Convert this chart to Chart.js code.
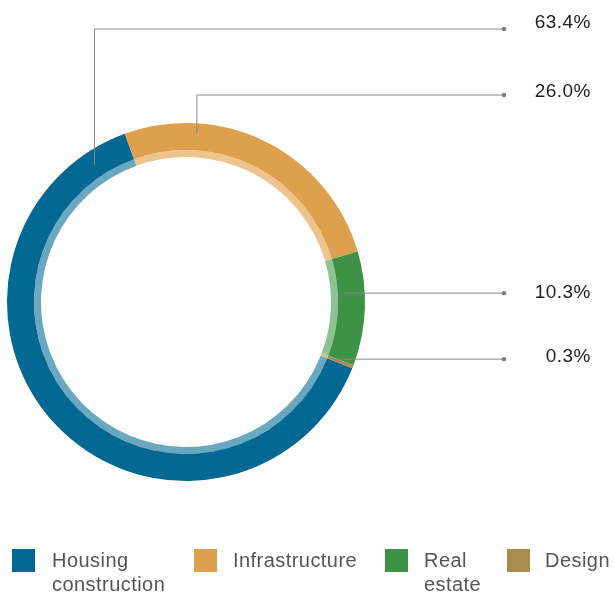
<!DOCTYPE html>
<html>
<head>
<meta charset="utf-8">
<script src="https://cdn.jsdelivr.net/npm/chart.js@4.4.1/dist/chart.umd.min.js"></script>
<style>
  body { margin: 0; background: #fff; }
  #wrap { position: relative; width: 614px; height: 594px; }
  #chart { position: absolute; left: 0; top: 0; }
  .legend-item { position: absolute; top: 549px; }
  .legend-item .box { position: absolute; left: 0; top: 0; width: 23px; height: 23px; }
  .legend-item .text {
    position: absolute; top: -1px;
    font: 20px "Liberation Sans", Arial, sans-serif;
    letter-spacing: 0.45px;
    line-height: 24px; color: #555;
  }
</style>
</head>
<body>
<div id="wrap">
  <canvas id="chart" width="614" height="594"></canvas>
  <div id="legend"></div>
</div>
<script>
// Revenue split by segment
const categories = ['Housing construction', 'Infrastructure', 'Real estate', 'Design'];
const shares = [63.4, 26.0, 10.3, 0.3];
const shareLabels = shares.map(v => v.toFixed(1) + '%');

const colors = ['#006892', '#dfa04d', '#3d9245', '#a98a4f'];
const lightColors = ['#6aa7c0', '#edc48f', '#8dc294', '#d5bd98'];

// Infrastructure starts just left of 12 o'clock, housing closes the ring there
const rotation = -20 + (shares[1] + shares[2] + shares[3]) / 100 * 360;

// where each leader line leaves its slice (fraction along the arc, radius)
const leaders = [
    { at: 0.94, r: 165, elbowY: 29, textDy: -6 },
    { at: 0.253, r: 169, elbowY: 95, textDy: -3 },
    { at: 0.356, r: 159, elbowY: null, textDy: 0 },
    { at: 0.1, r: 161, elbowY: null, textDy: -2 }
];
const dotX = 504;
const textRight = 591;

// Leader lines + percentage labels on the right
const leaderPlugin = {
    id: 'leaders',
    afterDatasetsDraw(chart) {
        const ctx = chart.ctx;
        const meta = chart.getDatasetMeta(0);
        ctx.save();
        meta.data.forEach((arc, i) => {
            const { x, y, startAngle, endAngle } = arc.getProps(['x', 'y', 'startAngle', 'endAngle'], true);
            const cfg = leaders[i];
            const a = startAngle + cfg.at * (endAngle - startAngle);
            const px = x + cfg.r * Math.cos(a);
            const py = y + cfg.r * Math.sin(a);
            const ly = cfg.elbowY === null ? py : cfg.elbowY;

            ctx.strokeStyle = '#8a8a8a';
            ctx.lineWidth = 1;
            ctx.beginPath();
            ctx.moveTo(px, py);
            if (cfg.elbowY !== null) ctx.lineTo(px, ly);
            ctx.lineTo(dotX, ly);
            ctx.stroke();

            ctx.fillStyle = '#7a7a7a';
            ctx.beginPath();
            ctx.arc(dotX, ly, 2.2, 0, Math.PI * 2);
            ctx.fill();

            ctx.fillStyle = '#222';
            ctx.font = '19px "Liberation Sans", Arial, sans-serif';
            ctx.letterSpacing = '0.5px';
            ctx.textAlign = 'right';
            ctx.textBaseline = 'middle';
            ctx.fillText(shareLabels[i], textRight, ly + cfg.textDy);
        });
        ctx.restore();
    }
};

const chart = new Chart(document.getElementById('chart'), {
    type: 'doughnut',
    data: {
        labels: categories,
        datasets: [
            { data: shares, backgroundColor: colors, borderWidth: 0, weight: 27 },
            { data: shares, backgroundColor: lightColors, borderWidth: 0, weight: 7 }
        ]
    },
    options: {
        responsive: false,
        animation: false,
        rotation: rotation,
        cutout: 145,
        layout: { padding: { left: 7, top: 123, right: 249, bottom: 113 } },
        plugins: {
            legend: { display: false },
            tooltip: { enabled: false }
        }
    },
    plugins: [leaderPlugin]
});

// Legend row under the ring
const legendPos = [
    { left: 12, textLeft: 40, width: 135 },
    { left: 194, textLeft: 39, width: 170 },
    { left: 385, textLeft: 39, width: 70 },
    { left: 507, textLeft: 38, width: 80 }
];
const legend = document.getElementById('legend');
categories.forEach((name, i) => {
    const p = legendPos[i];
    const item = document.createElement('div');
    item.className = 'legend-item';
    item.style.left = p.left + 'px';
    item.innerHTML = `<div class="box" style="background:${colors[i]}"></div>` +
        `<div class="text" style="left:${p.textLeft}px;width:${p.width}px">${name}</div>`;
    legend.appendChild(item);
});
</script>
</body>
</html>
